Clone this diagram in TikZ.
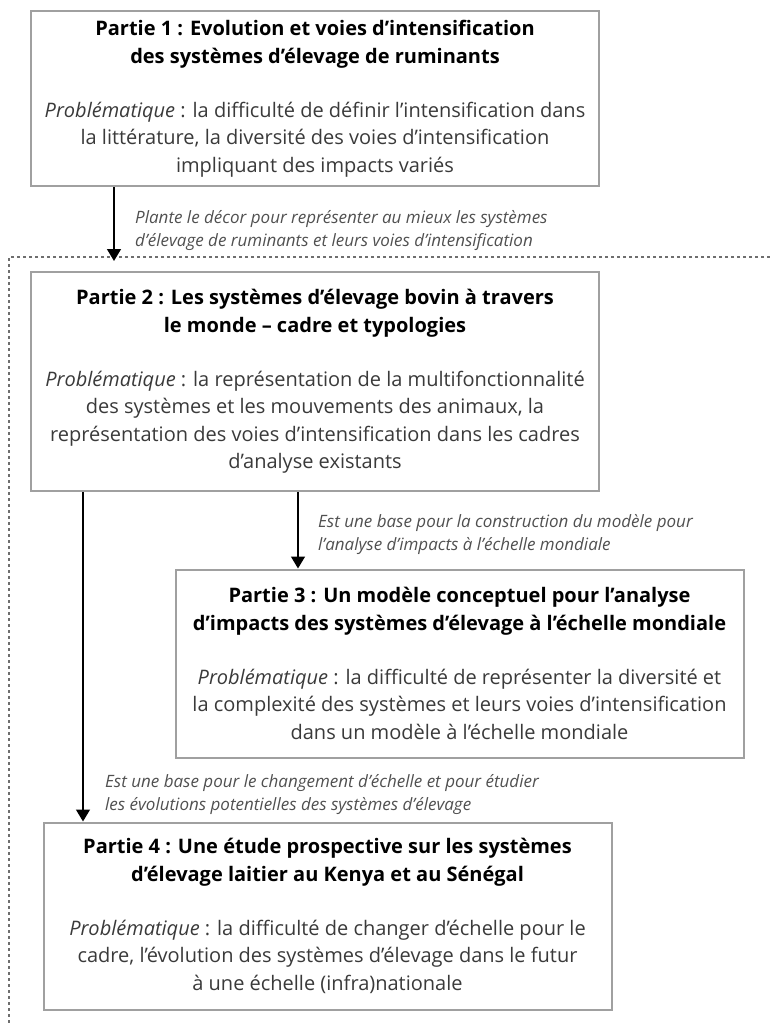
\documentclass[tikz,border=0pt]{standalone}
\usepackage{fontspec}
\setmainfont{Open Sans}
\usetikzlibrary{arrows.meta}
\definecolor{boxgray}{HTML}{A0A0A0}
\definecolor{bodytext}{HTML}{3A3A3A}
\definecolor{labtext}{HTML}{505050}
\definecolor{framegray}{HTML}{6E6E6E}
\begin{document}
\begin{tikzpicture}[x=1pt,y=-1pt,
  partbox/.style={draw=boxgray, line width=2pt, fill=white, minimum width=568pt,
    align=center, inner sep=0pt, text=bodytext,
    font={\fontsize{20}{27.5}\selectfont\lineskiplimit=-30pt\lineskip=0pt}},
  lab/.style={anchor=west, align=left, inner sep=0pt, text=labtext,
    font={\fontsize{17}{23}\selectfont\itshape\lineskiplimit=-30pt\lineskip=0pt}},
  arr/.style={draw=black, line width=1.5pt, -{Triangle[width=14pt,length=12pt]}},
  frameline/.style={draw=framegray, line width=2pt, dash pattern=on 3pt off 3pt}
]
\useasboundingbox (0,0) rectangle (770,1025);

\draw[frameline] (770,257) -- (9,257) -- (9,1025);

\node[partbox, minimum height=175pt] (p1) at (315,98.5)
 {\textbf{\color{black}Partie 1 : Evolution et voies d'intensification}\\
  \textbf{\color{black}des systèmes d'élevage de ruminants}\\[26.5pt]
  \textit{Problématique} : la difficulté de définir l'intensification dans\\
  la littérature, la diversité des voies d'intensification\\
  impliquant des impacts variés};

\node[partbox, minimum height=219pt] (p2) at (315,381.5)
 {\textbf{\color{black}Partie 2 : Les systèmes d'élevage bovin à travers}\\
  \textbf{\color{black}le monde – cadre et typologies}\\[26.5pt]
  \textit{Problématique} : la représentation de la multifonctionnalité\\
  des systèmes et les mouvements des animaux, la\\
  représentation des voies d'intensification dans les cadres\\
  d'analyse existants};

\node[partbox, minimum height=188pt] (p3) at (459.5,663.5)
 {\textbf{\color{black}Partie 3 : Un modèle conceptuel pour l'analyse}\\
  \textbf{\color{black}d'impacts des systèmes d'élevage à l'échelle mondiale}\\[26.5pt]
  \textit{Problématique} : la difficulté de représenter la diversité et\\
  la complexité des systèmes et leurs voies d'intensification\\
  dans un modèle à l'échelle mondiale};

\node[partbox, minimum height=187pt] (p4) at (327.5,916)
 {\textbf{\color{black}Partie 4 : Une étude prospective sur les systèmes}\\
  \textbf{\color{black}d'élevage laitier au Kenya et au Sénégal}\\[26.5pt]
  \textit{Problématique} : la difficulté de changer d'échelle pour le\\
  cadre, l'évolution des systèmes d'élevage dans le futur\\
  à une échelle (infra)nationale};

\coordinate (t1) at (114,261);
\coordinate (a2) at (83,0);
\coordinate (a3) at (298,0);

\draw[arr] (p1.south -| t1) -- (t1);
\draw[arr] (p2.south -| a2) -- (p4.north -| a2);
\draw[arr] (p2.south -| a3) -- (p3.north -| a3);

\node[lab] (l1) at (135,230.5)
 {Plante le décor pour représenter au mieux les systèmes\\
  d'élevage de ruminants et leurs voies d'intensification};
\node[lab] (l2) at (318,534.5)
 {Est une base pour la construction du modèle pour\\
  l'analyse d'impacts à l'échelle mondiale};
\node[lab] (l3) at (105,795)
 {Est une base pour le changement d'échelle et pour étudier\\
  les évolutions potentielles des systèmes d'élevage};
\end{tikzpicture}
\end{document}
